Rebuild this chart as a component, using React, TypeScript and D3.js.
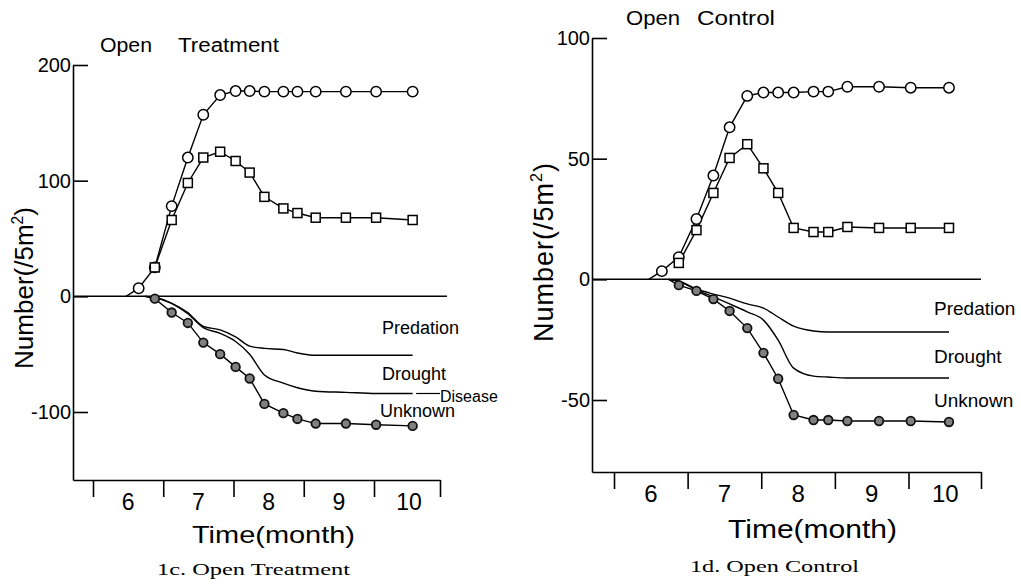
import React, { useRef, useEffect } from "react";
import * as d3 from "d3";

// sampling dates, as fractional months (6.0 = 1 June), shared by both plots
const sampleMonths = [6.65, 6.88, 7.12, 7.35, 7.57, 7.81, 8.03, 8.23, 8.44, 8.71, 8.91, 9.17, 9.6, 10.03, 10.55];
const riseOnset = 6.47;
const lossOnset = 6.74;
const monthTicks = [6, 7, 8, 9, 10];
const lossNames = ["Predation", "Drought", "Unknown"];

// 1c. Open Treatment
const treatYTicks = [200, 100, 0, -100];
const treatTotal = [7, 25, 78, 120, 157, 174, 177.5, 177.5, 177, 177, 177, 177, 177, 177, 177];
const treatAlive = [25, 66, 98, 120, 125, 117, 107, 86, 76, 72, 68, 68, 68, 66];
const treatPredation = [-1, -6, -14, -26, -29, -35, -43, -45, -46, -49, -51, -51, -51, -51];
const treatDrought = [-1, -6, -15, -27, -32, -39, -50, -68, -75, -79, -82, -83, -84, -84];
const treatUnknown = [-2, -14, -23, -40, -50, -61, -71, -93, -101, -106, -110, -110, -111, -112];

// 1d. Open Control
const ctrlYTicks = [100, 50, 0, -50];
const ctrlTotal = [3.4, 9.2, 25, 43, 63, 76, 77.4, 77.4, 77.4, 77.8, 77.8, 79.8, 79.8, 79.4, 79.4];
const ctrlAlive = [6.8, 20.4, 35.8, 50.3, 56, 46, 35.8, 21.3, 19.6, 19.6, 21.7, 21.3, 21.3, 21.3];
const ctrlPredation = [-0.8, -4, -6.1, -7.8, -10.2, -11.9, -15.6, -19.4, -21.4, -21.8, -21.8, -21.8, -21.8, -21.8];
const ctrlDrought = [-0.8, -4.4, -7.3, -10.2, -13.5, -16.9, -25.2, -36.8, -40.1, -40.5, -40.9, -40.9, -40.9, -40.9];
const ctrlUnknown = [-2.4, -4.8, -8.2, -13.1, -20.2, -30.5, -41.2, -56.2, -58.3, -58.3, -58.7, -58.7, -58.7, -59.1];

const SANS = "'Liberation Sans', Arial, sans-serif";
const SERIF = "'Liberation Serif', 'DejaVu Serif', serif";

type Pt = [number, number];

interface TextSpec {
    text: string;
    x: number;
    y: number;
    size: number;
    len?: number;
}

interface Panel {
    yTicks: number[];
    total: number[];
    alive: number[];
    predation: number[];
    drought: number[];
    unknown: number[];
    xRange: [number, number]; // px of month 6 and month 10
    axisLeft: number;
    axisRight: number;
    zeroEnd: number;
    yRef: [number, number]; // two tick values
    yRefPx: [number, number];
    bottom: number;
    tickSize: number;
    monthSize: number;
    monthBase: number;
    title: TextSpec[];
    lossLabels: Pt[];
    lossSize: number;
    timeLabel: TextSpec;
    caption: TextSpec;
    yLabel: { x: number; y: number; size: number; spacing: number };
    disease?: { x: number; y: number };
}

const treatPanel: Panel = {
    yTicks: treatYTicks,
    total: treatTotal,
    alive: treatAlive,
    predation: treatPredation,
    drought: treatDrought,
    unknown: treatUnknown,
    xRange: [93, 374],
    axisLeft: 73,
    axisRight: 440,
    zeroEnd: 447,
    yRef: [200, -100],
    yRefPx: [65, 412],
    bottom: 480,
    tickSize: 20,
    monthSize: 23,
    monthBase: 510,
    title: [
        { text: "Open", x: 100, y: 52, size: 20, len: 52 },
        { text: "Treatment", x: 178, y: 52, size: 20, len: 101 },
    ],
    lossLabels: [[382, 334], [382, 380], [380, 417]],
    lossSize: 18,
    timeLabel: { text: "Time(month)", x: 192, y: 543, size: 24, len: 163 },
    caption: { text: "1c. Open Treatment", x: 157, y: 575, size: 17, len: 193 },
    yLabel: { x: 33, y: 288, size: 26, spacing: 0 },
    disease: { x: 440, y: 402 },
};

const ctrlPanel: Panel = {
    yTicks: ctrlYTicks,
    total: ctrlTotal,
    alive: ctrlAlive,
    predation: ctrlPredation,
    drought: ctrlDrought,
    unknown: ctrlUnknown,
    xRange: [614, 908.5],
    axisLeft: 592,
    axisRight: 981,
    zeroEnd: 981,
    yRef: [100, -50],
    yRefPx: [38, 400],
    bottom: 472,
    tickSize: 20,
    monthSize: 24,
    monthBase: 502,
    title: [
        { text: "Open", x: 626, y: 25, size: 20, len: 54 },
        { text: "Control", x: 697, y: 25, size: 20, len: 78 },
    ],
    lossLabels: [[934, 315], [934, 363], [934, 407]],
    lossSize: 19,
    timeLabel: { text: "Time(month)", x: 728, y: 538, size: 25, len: 169 },
    caption: { text: "1d. Open Control", x: 690, y: 572, size: 17, len: 169 },
    yLabel: { x: 553, y: 252, size: 27, spacing: 1 },
};

function drawPanel(svg: d3.Selection<SVGSVGElement, unknown, null, undefined>, p: Panel) {
    const g = svg.append("g");

    const x = d3.scaleLinear().domain([6, 10]).range(p.xRange);
    const yr = d3.scaleLinear().domain(p.yRef).range(p.yRefPx);
    const yTop = p.yTicks[0];
    const y = d3
        .scaleLinear()
        .domain([yr.invert(p.bottom), yTop])
        .range([p.bottom, yr(yTop)]);

    // y axis, ticks pointing inward
    const yAxis = g
        .append("g")
        .attr("transform", `translate(${p.axisLeft},0)`)
        .call(
            d3
                .axisLeft(y)
                .tickValues(p.yTicks)
                .tickSizeInner(-15)
                .tickSizeOuter(0)
                .tickPadding(2)
                .tickFormat((d) => String(d))
        );
    yAxis.attr("font-family", SANS).attr("font-size", p.tickSize);
    yAxis.selectAll("path, line").attr("stroke", "#000").attr("stroke-width", 1.6);
    yAxis.selectAll("text").attr("fill", "#000");

    // x axis: ticks on month boundaries, labels in the middle of each month
    const xAxisScale = x
        .copy()
        .domain([x.invert(p.axisLeft), x.invert(p.axisRight)])
        .range([p.axisLeft, p.axisRight]);
    const xAxis = g
        .append("g")
        .attr("transform", `translate(0,${p.bottom})`)
        .call(
            d3
                .axisBottom(xAxisScale)
                .tickValues([...monthTicks, x.invert(p.axisRight)])
                .tickSizeInner(17)
                .tickSizeOuter(0)
                .tickFormat(() => "")
        );
    xAxis.selectAll("path, line").attr("stroke", "#000").attr("stroke-width", 1.6);

    g.append("g")
        .selectAll("text")
        .data(monthTicks)
        .join("text")
        .attr("x", (d) => x(d + 0.5))
        .attr("y", p.monthBase)
        .attr("text-anchor", "middle")
        .attr("font-family", SANS)
        .attr("font-size", p.monthSize)
        .text((d) => String(d));

    // zero line
    g.append("line")
        .attr("x1", p.axisLeft)
        .attr("x2", p.zeroEnd)
        .attr("y1", y(0))
        .attr("y2", y(0))
        .attr("stroke", "#000")
        .attr("stroke-width", 1.5);

    const line = d3
        .line<Pt>()
        .x((d) => x(d[0]))
        .y((d) => y(d[1]));
    const smooth = d3
        .line<Pt>()
        .x((d) => x(d[0]))
        .y((d) => y(d[1]))
        .curve(d3.curveMonotoneX);

    const totalPts: Pt[] = sampleMonths.map((m, i) => [m, p.total[i]]);
    const alivePts: Pt[] = sampleMonths.slice(1).map((m, i) => [m, p.alive[i]]);
    const lossPts = (v: number[]): Pt[] => [
        [lossOnset, 0],
        ...sampleMonths.slice(1).map((m, i) => [m, v[i]] as Pt),
    ];
    const unknownPts = lossPts(p.unknown);

    const paths: [Pt[], d3.Line<Pt>][] = [
        [[[riseOnset, 0], ...totalPts], line],
        [alivePts, line],
        [lossPts(p.predation), smooth],
        [lossPts(p.drought), smooth],
        [unknownPts, line],
    ];
    paths.forEach(([pts, gen]) => {
        g.append("path")
            .attr("d", gen(pts))
            .attr("fill", "none")
            .attr("stroke", "#000")
            .attr("stroke-width", 1.4);
    });

    // disease leader (treatment only)
    if (p.disease) {
        const dv = p.drought[p.drought.length - 1];
        g.append("line")
            .attr("x1", x(10.6))
            .attr("x2", p.disease.x)
            .attr("y1", y(dv))
            .attr("y2", y(dv))
            .attr("stroke", "#000")
            .attr("stroke-width", 1.2);
        g.append("text")
            .attr("x", p.disease.x)
            .attr("y", p.disease.y)
            .attr("font-family", SANS)
            .attr("font-size", 16)
            .text("Disease");
    }

    // markers
    g.append("g")
        .selectAll("circle")
        .data(totalPts)
        .join("circle")
        .attr("cx", (d) => x(d[0]))
        .attr("cy", (d) => y(d[1]))
        .attr("r", 5.2)
        .attr("fill", "#fff")
        .attr("stroke", "#000")
        .attr("stroke-width", 1.5);

    g.append("g")
        .selectAll("rect")
        .data(alivePts)
        .join("rect")
        .attr("x", (d) => x(d[0]) - 4.5)
        .attr("y", (d) => y(d[1]) - 4.5)
        .attr("width", 9)
        .attr("height", 9)
        .attr("fill", "#fff")
        .attr("stroke", "#000")
        .attr("stroke-width", 1.5);

    g.append("g")
        .selectAll("circle")
        .data(unknownPts.slice(1))
        .join("circle")
        .attr("cx", (d) => x(d[0]))
        .attr("cy", (d) => y(d[1]))
        .attr("r", 4.3)
        .attr("fill", "#808080")
        .attr("stroke", "#111")
        .attr("stroke-width", 1.8);

    // series names
    g.append("g")
        .selectAll("text")
        .data(p.lossLabels)
        .join("text")
        .attr("x", (d) => d[0])
        .attr("y", (d) => d[1])
        .attr("font-family", SANS)
        .attr("font-size", p.lossSize)
        .text((_, i) => lossNames[i]);

    // title, axis title, caption
    const putText = (t: TextSpec, family: string) => {
        const el = g
            .append("text")
            .attr("x", t.x)
            .attr("y", t.y)
            .attr("font-family", family)
            .attr("font-size", t.size)
            .text(t.text);
        if (t.len) el.attr("textLength", t.len).attr("lengthAdjust", "spacingAndGlyphs");
    };
    p.title.forEach((t) => putText(t, SANS));
    putText(p.timeLabel, SANS);
    putText(p.caption, SERIF);

    const yl = g
        .append("text")
        .attr("transform", `translate(${p.yLabel.x},${p.yLabel.y}) rotate(-90)`)
        .attr("text-anchor", "middle")
        .attr("font-family", SANS)
        .attr("font-size", p.yLabel.size)
        .attr("letter-spacing", p.yLabel.spacing);
    yl.append("tspan").text("Number(/5m");
    yl.append("tspan")
        .attr("font-size", p.yLabel.size * 0.6)
        .attr("dy", -p.yLabel.size * 0.4)
        .text("2");
    yl.append("tspan").attr("dy", p.yLabel.size * 0.4).text(")");
}

const App: React.FC = () => {
    const svgRef = useRef<SVGSVGElement | null>(null);

    useEffect(() => {
        if (!svgRef.current) return;
        const svg = d3.select(svgRef.current);
        svg.selectAll("*").remove();
        drawPanel(svg, treatPanel);
        drawPanel(svg, ctrlPanel);
    }, []);

    return (
        <div style={{ position: "absolute", left: 0, top: 0 }}>
            <svg
                ref={svgRef}
                width={1021}
                height={584}
                style={{ display: "block", background: "#fff" }}
            />
        </div>
    );
};

export default App;
